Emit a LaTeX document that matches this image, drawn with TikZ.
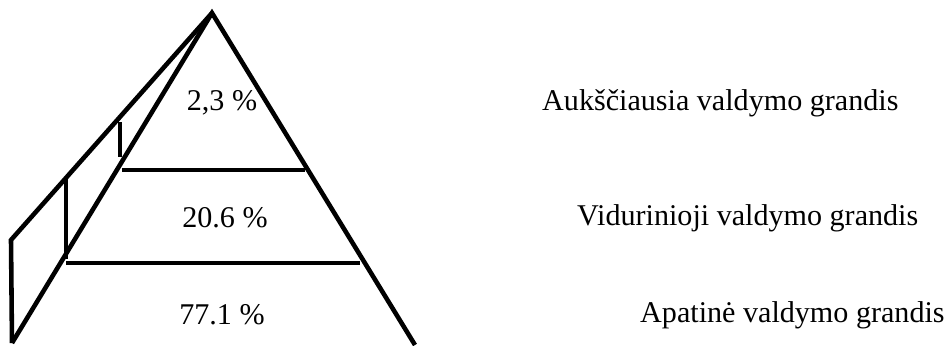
\documentclass[tikz,border=0pt]{standalone}
\usepackage{fontspec}
\setmainfont{Liberation Serif}

\begin{document}
\begin{tikzpicture}[pyrline/.style={line width=3.9pt, line cap=butt, line join=miter},
  share/.style={font=\fontsize{25.7}{30}\selectfont},
  tier/.style={font=\fontsize{25.7}{30}\selectfont, anchor=west, inner sep=0pt}]

\useasboundingbox (0, 0) rectangle (28.35, 10.35);

% pyramid corners
\coordinate (apex) at (6.36, 9.96);
\coordinate (baseL) at (0.36, 0.06);
\coordinate (baseR) at (12.45, 0.0);
\coordinate (wallTop) at (0.33, 3.15);

\draw[pyrline] (baseL) -- (apex) -- (baseR);
\draw[pyrline] (apex) -- (wallTop) -- (baseL);

% level dividers
\draw[pyrline] (3.66, 5.25) -- (9.15, 5.25);
\draw[pyrline] (1.98, 2.46) -- (10.8, 2.46);
\draw[pyrline] (3.6, 6.69) -- (3.6, 5.64);
\draw[pyrline] (1.98, 5.04) -- (1.98, 2.58);

\node[share] (top) at (6.66, 7.26) {2,3 \%};
\node[share] (mid) at (6.75, 3.81) {20.6 \%};
\node[share] (low) at (6.66, 0.9) {77.1 \%};

\node[tier] (topname) at (16.26, 7.26) {Aukščiausia valdymo grandis};
\node[tier] (midname) at (17.31, 3.81) {Vidurinioji valdymo grandis};
\node[tier] (lowname) at (19.2, 0.9) {Apatinė valdymo grandis};

\end{tikzpicture}
\end{document}
